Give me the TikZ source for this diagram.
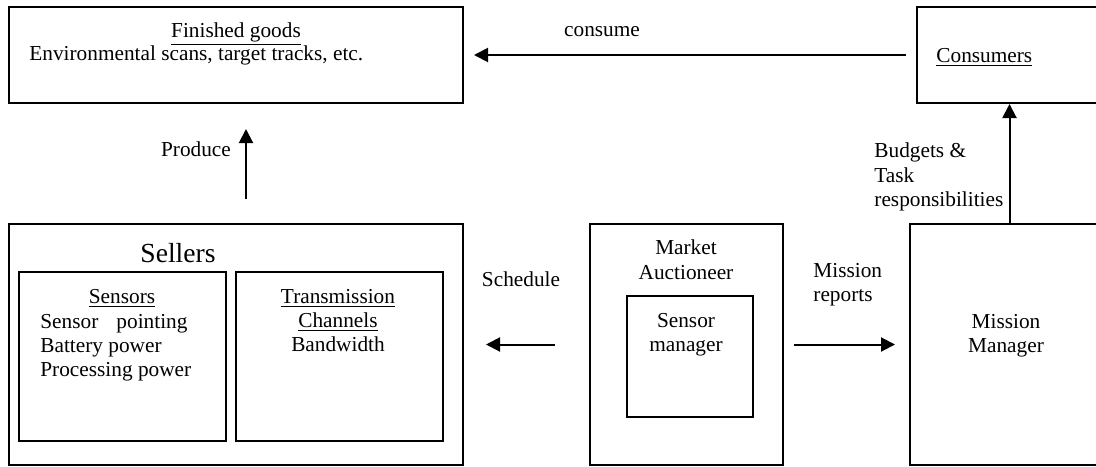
\documentclass[tikz,border=0pt]{standalone}
\usepackage{fontspec}
\setmainfont{Liberation Serif}
\usetikzlibrary{arrows.meta,fit}

\begin{document}
\begin{tikzpicture}[x=0.5pt,y=-0.5pt,>={Triangle[length=7pt,width=7pt]},
  font=\fontsize{10.65}{12.2}\selectfont,
  box/.style={draw,line width=1pt,inner sep=0pt},
  lbl/.style={inner sep=0pt},
  arr/.style={->,line width=1pt}]
  \useasboundingbox (0,0) rectangle (1096,466);
  % boxes
  \node[box,fit={(9,7) (463,103)}]      (fin)  {};
  \node[box,fit={(917,7) (1102,103)}]   (cons) {};
  \node[box,fit={(9,224) (463,465)}]    (sell) {};
  \node[box,fit={(19,272) (226,441)}]   (sens) {};
  \node[box,fit={(236,272) (443,441)}]  (chan) {};
  \node[box,fit={(590,224) (783,465)}]  (mkt)  {};
  \node[box,fit={(627,296) (753,417)}]  (smgr) {};
  \node[box,fit={(910,224) (1102,465)}] (mm)   {};
  % texts
  \node[lbl,anchor=base]       (fint)  at (236,37)  {\underline{Finished goods}};
  \node[lbl,anchor=base west]  (finx)  at (29,60)   {Environmental scans, target tracks, etc.};
  \node[lbl,anchor=base west]  (const) at (936,62)  {\underline{Consumers}};
  \node[lbl,anchor=base,font=\fontsize{13.8}{16}\selectfont] (sellt) at (178,262) {Sellers};
  \node[lbl,anchor=base]       (senst) at (122,303) {\underline{Sensors}};
  \node[lbl,anchor=north west,align=left] (sensx) at (40,313.5)
    {Sensor\hspace{0.85em}pointing\\Battery power\\Processing power};
  \node[lbl,anchor=north,align=center] (chant) at (338,288.5)
    {\underline{Transmission}\\\underline{Channels}\\Bandwidth};
  \node[lbl,anchor=north,align=center] (mktt)  at (686,239.5) {Market\\Auctioneer};
  \node[lbl,anchor=north,align=center] (smgrt) at (686,312.5) {Sensor\\manager};
  \node[lbl,anchor=north,align=center] (mmt)   at (1006,313.5) {Mission\\Manager};
  % connectors
  \draw[arr,shorten <=5pt,shorten >=5pt] (cons) -- (fin);
  \node[lbl,anchor=base] (consl) at (602,36) {consume};
  \draw[arr,shorten <=12pt,shorten >=12.5pt] ([xshift=5pt]sell.north) -- ([xshift=5pt]fin.south);
  \node[lbl,anchor=base] (prodl) at (196,156) {Produce};
  \draw[arr] (mm.north -| cons.south) -- (cons.south);
  \node[lbl,anchor=north west,align=left] (budl) at (874,142.5) {Budgets \&\\Task\\responsibilities};
  \draw[arr,shorten <=17pt,shorten >=11pt] (mkt.west) -- (sell.east);
  \node[lbl,anchor=base] (schl) at (521,286) {Schedule};
  \draw[arr,shorten <=5pt,shorten >=7pt] (mkt.east) -- (mm.west);
  \node[lbl,anchor=north west,align=left] (repl) at (813,262.5) {Mission\\reports};
\end{tikzpicture}
\end{document}
